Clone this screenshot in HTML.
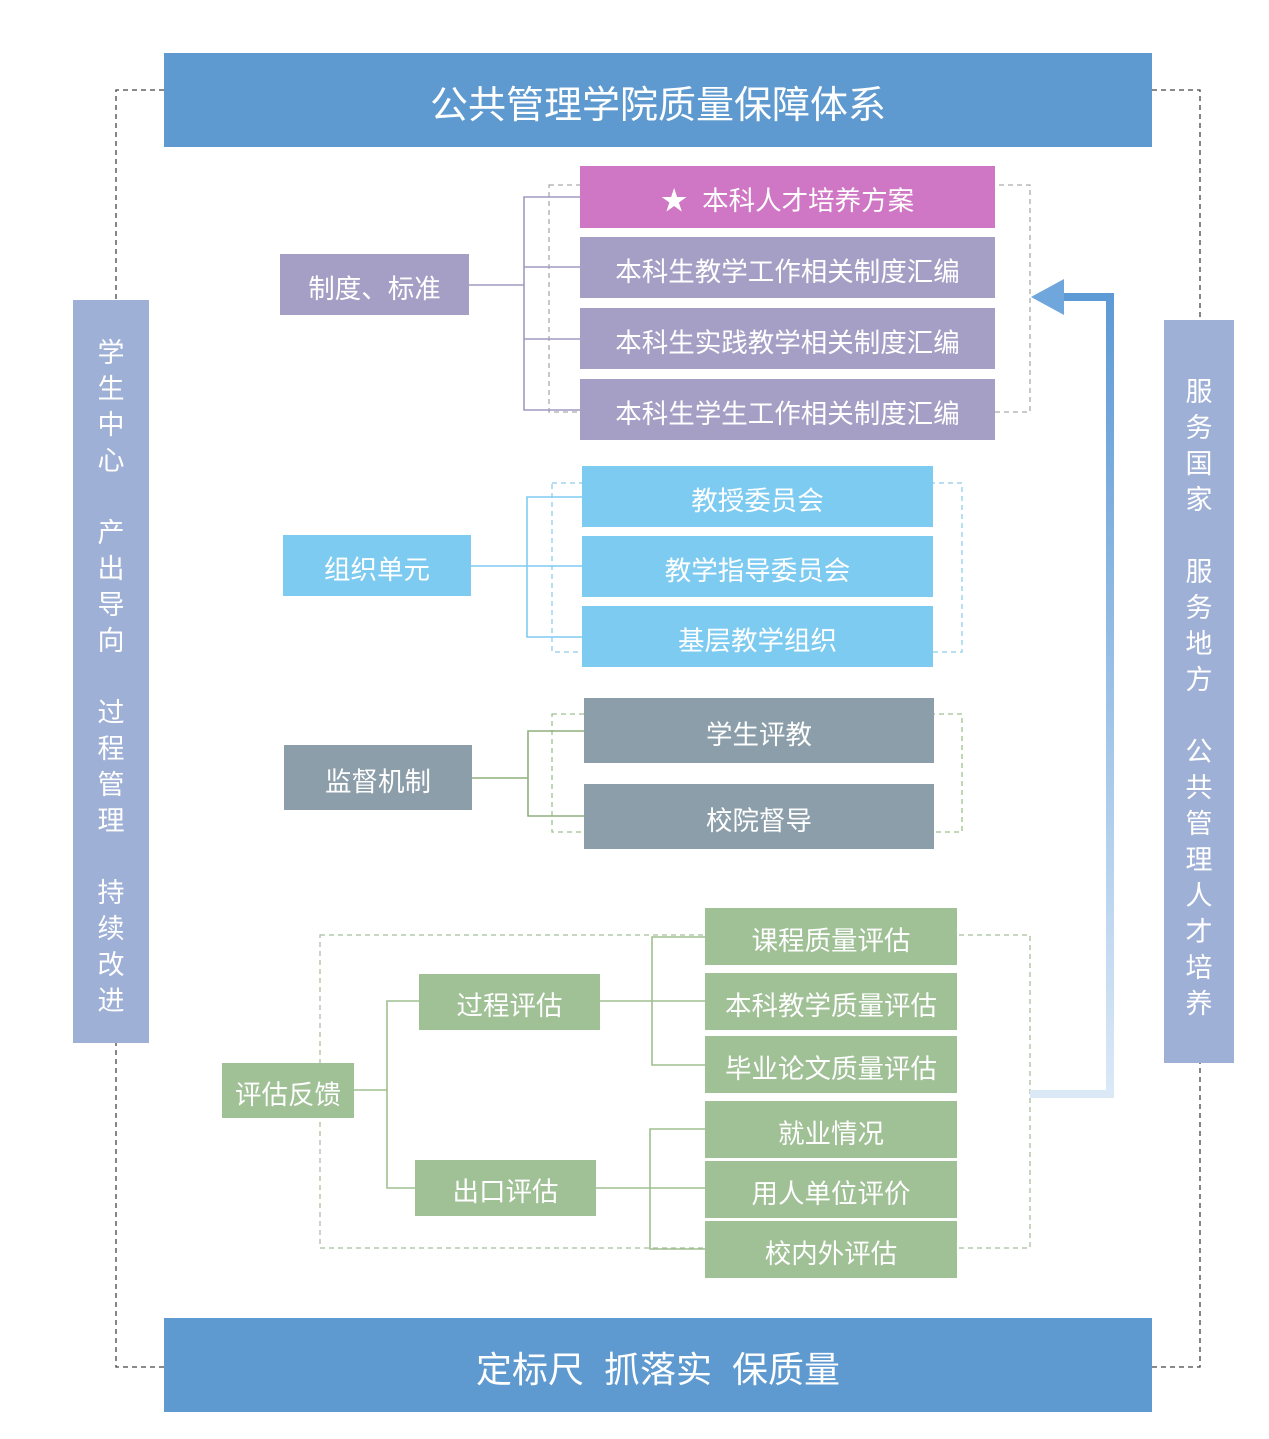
<!DOCTYPE html>
<html><head><meta charset="utf-8"><style>
body{margin:0;width:1269px;height:1439px;background:#fff;position:relative;overflow:hidden;font-family:"Liberation Sans","Noto Sans CJK SC",sans-serif}
.b{position:absolute;color:#fff;display:flex;align-items:center;justify-content:center;font-size:26.5px;box-sizing:border-box;padding-top:3px}
.v{position:absolute;color:#fff;font-size:27px;text-align:center;line-height:36px;box-sizing:border-box}
svg{position:absolute;left:0;top:0}
</style></head><body>
<svg width="1269" height="1439">
<defs><linearGradient id="g" x1="0" y1="1" x2="0" y2="0"><stop offset="0" stop-color="#dbe9f7"/><stop offset="1" stop-color="#5e9ad6"/></linearGradient></defs>
<g fill="none" stroke="#444" stroke-dasharray="5,4" stroke-width="1.3">
<path d="M164 90H116V1367H164"/><path d="M1152 90H1200V1367H1152"/>
</g>
<g fill="none" stroke-dasharray="5,4" stroke-width="1.3">
<rect x="549" y="185" width="481" height="227" stroke="#aaa"/>
<rect x="552" y="483" width="410" height="169" stroke="#8fcbee"/>
<rect x="552" y="714" width="410" height="118" stroke="#9fbf8f"/>
<rect x="320" y="935" width="710" height="313" stroke="#a8bf9e"/>
</g>
<g fill="none" stroke-width="1.6">
<path stroke="#a09ac0" d="M469 285H524M580 197H524V410H580M524 267H580M524 339H580"/>
<path stroke="#7ecbf1" d="M471 566H527M582 497H527V637H582M527 566H582"/>
<path stroke="#8fb07f" d="M472 778H528M584 731H528V816H584"/>
<path stroke="#9fbf8f" d="M354 1090H387M419 1001H387V1188H415M600 1001H705M705 937H652V1065H705M596 1188H705M705 1129H650V1249H705"/>
</g>
<path d="M1030 1094H1110V297H1058" fill="none" stroke="url(#g)" stroke-width="8"/>
<polygon points="1031,297 1064,279 1064,315" fill="#6fa6dc"/>
</svg>
<div class="b" style="left:164px;top:53px;width:988px;height:94px;background:#5e9acf;font-size:38px">公共管理学院质量保障体系</div>
<div class="b" style="left:164px;top:1318px;width:988px;height:94px;background:#5e9acf;font-size:36px">定标尺&nbsp;&nbsp;抓落实&nbsp;&nbsp;保质量</div>
<div class="v" style="left:73px;top:300px;width:76px;height:743px;background:#9fb0d6;padding-top:35px">学<br>生<br>中<br>心<br><br>产<br>出<br>导<br>向<br><br>过<br>程<br>管<br>理<br><br>持<br>续<br>改<br>进</div>
<div class="v" style="left:1164px;top:320px;width:70px;height:743px;background:#9fb0d6;padding-top:54px">服<br>务<br>国<br>家<br><br>服<br>务<br>地<br>方<br><br>公<br>共<br>管<br>理<br>人<br>才<br>培<br>养</div>

<div class="b" style="left:280px;top:254px;width:189px;height:61px;background:#a59fc5">制度、标准</div>
<div class="b" style="left:580px;top:166px;width:415px;height:62px;background:#cf76c4">★&nbsp;&nbsp;本科人才培养方案</div>
<div class="b" style="left:580px;top:237px;width:415px;height:61px;background:#a59fc5">本科生教学工作相关制度汇编</div>
<div class="b" style="left:580px;top:308px;width:415px;height:61px;background:#a59fc5">本科生实践教学相关制度汇编</div>
<div class="b" style="left:580px;top:379px;width:415px;height:61px;background:#a59fc5">本科生学生工作相关制度汇编</div>

<div class="b" style="left:283px;top:535px;width:188px;height:61px;background:#7ecbf1">组织单元</div>
<div class="b" style="left:582px;top:466px;width:351px;height:61px;background:#7ecbf1">教授委员会</div>
<div class="b" style="left:582px;top:536px;width:351px;height:61px;background:#7ecbf1">教学指导委员会</div>
<div class="b" style="left:582px;top:606px;width:351px;height:61px;background:#7ecbf1">基层教学组织</div>

<div class="b" style="left:284px;top:745px;width:188px;height:65px;background:#8c9ea9">监督机制</div>
<div class="b" style="left:584px;top:698px;width:350px;height:65px;background:#8c9ea9">学生评教</div>
<div class="b" style="left:584px;top:784px;width:350px;height:65px;background:#8c9ea9">校院督导</div>

<div class="b" style="left:222px;top:1063px;width:132px;height:55px;background:#a0c096">评估反馈</div>
<div class="b" style="left:419px;top:974px;width:181px;height:56px;background:#a0c096">过程评估</div>
<div class="b" style="left:415px;top:1160px;width:181px;height:56px;background:#a0c096">出口评估</div>
<div class="b" style="left:705px;top:908px;width:252px;height:57px;background:#a0c096">课程质量评估</div>
<div class="b" style="left:705px;top:973px;width:252px;height:57px;background:#a0c096">本科教学质量评估</div>
<div class="b" style="left:705px;top:1036px;width:252px;height:57px;background:#a0c096">毕业论文质量评估</div>
<div class="b" style="left:705px;top:1101px;width:252px;height:57px;background:#a0c096">就业情况</div>
<div class="b" style="left:705px;top:1161px;width:252px;height:57px;background:#a0c096">用人单位评价</div>
<div class="b" style="left:705px;top:1221px;width:252px;height:57px;background:#a0c096">校内外评估</div>
</body></html>
